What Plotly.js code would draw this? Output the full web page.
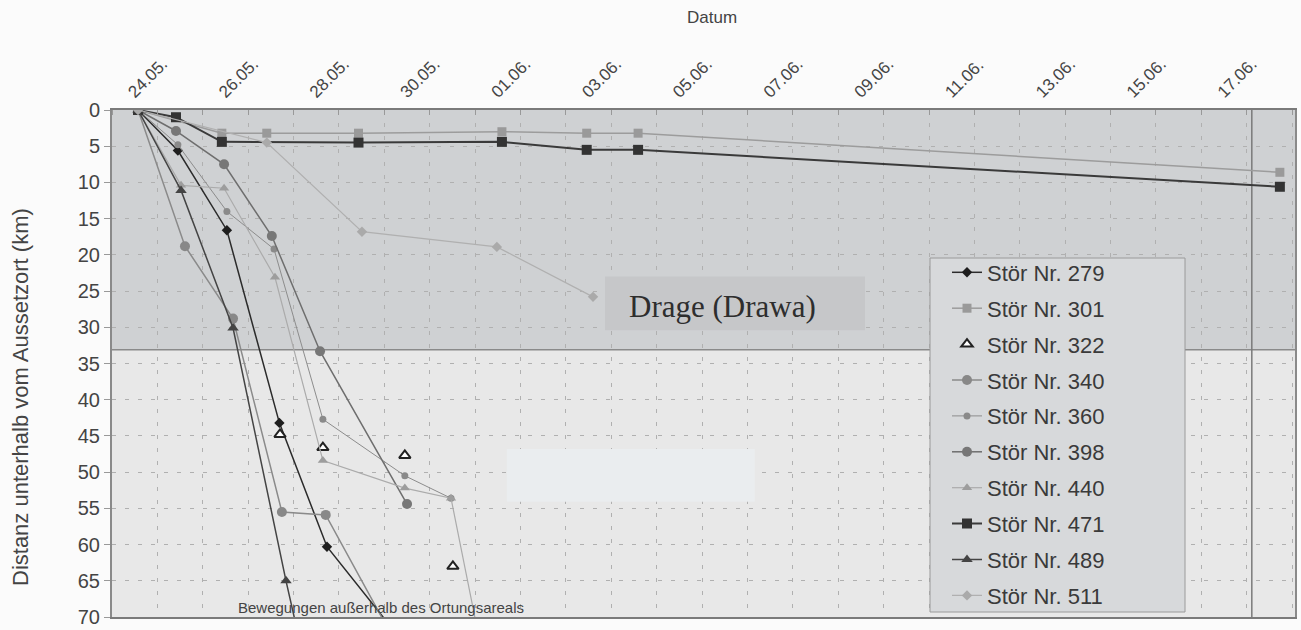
<!DOCTYPE html>
<html>
<head>
<meta charset="utf-8">
<script src="https://cdn.plot.ly/plotly-3.0.1.min.js"></script>
<style>html,body{margin:0;padding:0;background:#fbfbfb;}#chart{width:1301px;height:630px;}</style>
</head>
<body>
<div id="chart"></div>
<script>
// ---- data (dates = time of fix, values = km downstream of release site) ----
const tickDates = ["2008-05-24 09:00","2008-05-26 09:00","2008-05-28 09:00","2008-05-30 09:00","2008-06-01 09:00","2008-06-03 09:00","2008-06-05 09:00","2008-06-07 09:00","2008-06-09 09:00","2008-06-11 09:00","2008-06-13 09:00","2008-06-15 09:00","2008-06-17 09:00"];
const tickLabels = ["24.05.","26.05.","28.05.","30.05.","01.06.","03.06.","05.06.","07.06.","09.06.","11.06.","13.06.","15.06.","17.06."];

const t279 = ["2008-05-24 13:45","2008-05-25 10:50","2008-05-26 12:45","2008-05-27 16:30","2008-05-28 17:40","2008-05-30 10:00"];
const km279 = [0, 5.6, 16.6, 43.2, 60.3, 73.5];

const t301 = ["2008-05-24 13:45","2008-05-26 10:05","2008-05-27 09:50","2008-05-29 10:20","2008-06-01 14:10","2008-06-03 11:00","2008-06-04 14:10","2008-06-18 17:30"];
const km301 = [0, 3.2, 3.2, 3.2, 3.0, 3.2, 3.2, 8.6];

const t322 = ["2008-05-27 16:50","2008-05-28 15:30","2008-05-30 10:50","2008-05-31 12:15"];
const km322 = [44.8, 46.6, 47.7, 63.0];

const t340 = ["2008-05-24 13:45","2008-05-25 14:35","2008-05-26 16:00","2008-05-27 17:50","2008-05-28 17:00","2008-05-30 09:00"];
const km340 = [0, 18.8, 28.8, 55.5, 55.9, 75.0];

const t360 = ["2008-05-24 13:45","2008-05-25 10:50","2008-05-26 12:45","2008-05-27 13:40","2008-05-28 15:30","2008-05-30 10:50","2008-05-31 11:15"];
const km360 = [0, 4.8, 14.0, 19.2, 42.7, 50.5, 53.6];

const t398 = ["2008-05-24 13:45","2008-05-25 09:50","2008-05-26 11:15","2008-05-27 12:30","2008-05-28 14:00","2008-05-30 12:00"];
const km398 = [0, 2.9, 7.5, 17.4, 33.3, 54.4];

const t440 = ["2008-05-24 13:45","2008-05-25 12:30","2008-05-26 11:15","2008-05-27 14:10","2008-05-28 15:30","2008-05-30 10:50","2008-05-31 11:15","2008-06-01 06:00"];
const km440 = [0, 10.4, 10.8, 23.1, 48.4, 52.2, 53.6, 78.0];

const t471 = ["2008-05-24 13:45","2008-05-25 09:50","2008-05-26 10:05","2008-05-29 10:20","2008-06-01 14:10","2008-06-03 11:00","2008-06-04 14:10","2008-06-18 17:30"];
const km471 = [0, 1.0, 4.4, 4.5, 4.4, 5.5, 5.5, 10.6];

const t489 = ["2008-05-24 13:45","2008-05-25 12:30","2008-05-26 16:00","2008-05-27 20:00","2008-05-28 09:00"];
const km489 = [0, 11.1, 30.1, 65.0, 80.0];

const t511 = ["2008-05-24 13:45","2008-05-27 09:50","2008-05-29 12:10","2008-06-01 11:30","2008-06-03 14:20"];
const km511 = [0, 4.5, 16.8, 18.9, 25.8];

const dayGrid = [];
for (let d = 0; d <= 26; d++) {
  const dt = new Date(Date.UTC(2008, 4, 24 + d));
  dayGrid.push(dt.toISOString().slice(0, 10));
}

const SANS = "Liberation Sans, Arial, sans-serif";
const M = {l: 112, r: 6, t: 110, b: 13};
const plotW = 1301 - M.l - M.r;
const plotH = 630 - M.t - M.b;
const px = v => (v - M.l) / plotW;       // page x -> paper x
const py = v => 1 - (v - M.t) / plotH;   // page y -> paper y

function tr(name, x, y, mode, line, marker) {
  const t = {type: "scatter", name: name, x: x, y: y, mode: mode, marker: marker, legendgroup: name, cliponaxis: true};
  if (line) t.line = line;
  return t;
}

const data = [
  tr("Stör Nr. 279", t279, km279, "lines+markers", {color: "#2b2b2b", width: 1.5}, {symbol: "diamond", size: 8, color: "#1e1e1e"}),
  tr("Stör Nr. 301", t301, km301, "lines+markers", {color: "#9c9c9c", width: 1.5}, {symbol: "square", size: 9, color: "#9a9a9a"}),
  tr("Stör Nr. 322", t322, km322, "markers", null, {symbol: "triangle-up", size: 10, color: "#ffffff", line: {color: "#222", width: 2}}),
  tr("Stör Nr. 340", t340, km340, "lines+markers", {color: "#8a8a8a", width: 1.5}, {symbol: "circle", size: 10, color: "#888888"}),
  tr("Stör Nr. 360", t360, km360, "lines+markers", {color: "#8c8c8c", width: 1}, {symbol: "circle", size: 7, color: "#8a8a8a"}),
  tr("Stör Nr. 398", t398, km398, "lines+markers", {color: "#6e6e6e", width: 1.5}, {symbol: "circle", size: 10, color: "#777777"}),
  tr("Stör Nr. 440", t440, km440, "lines+markers", {color: "#ababab", width: 1.2}, {symbol: "triangle-up", size: 9, color: "#9d9d9d"}),
  tr("Stör Nr. 471", t471, km471, "lines+markers", {color: "#3a3a3a", width: 2}, {symbol: "square", size: 10, color: "#333333"}),
  tr("Stör Nr. 489", t489, km489, "lines+markers", {color: "#444444", width: 1.5}, {symbol: "triangle-up", size: 10, color: "#444444"}),
  tr("Stör Nr. 511", t511, km511, "lines+markers", {color: "#b0b0b0", width: 1.2}, {symbol: "diamond", size: 8, color: "#aaaaaa"})
];

const layout = {
  width: 1301, height: 630,
  margin: M,
  paper_bgcolor: "#fbfbfb",
  plot_bgcolor: "#e8e8e8",
  font: {family: SANS, color: "#444"},
  showlegend: true,
  legend: {
    x: px(947), y: py(251.5), xanchor: "left", yanchor: "top",
    bgcolor: "rgba(0,0,0,0)", borderwidth: 0,
    font: {family: SANS, size: 22, color: "#3a3a3a"},
    tracegroupgap: 4.3
  },
  xaxis: {
    type: "date", side: "top",
    range: ["2008-05-24 00:00", "2008-06-19 01:30"],
    tickmode: "array", tickvals: tickDates, ticktext: tickLabels,
    tickangle: -45, tickfont: {family: SANS, size: 17, color: "#444"},
    ticks: "", showgrid: false,
    minor: {tickmode: "array", tickvals: dayGrid, showgrid: true, gridcolor: "#b0b0b0", griddash: "4px,9px", ticks: "inside", ticklen: 5, tickcolor: "#999", gridwidth: 1},
    showline: true, linecolor: "#7a7a7a", linewidth: 2, mirror: true,
    zeroline: false
  },
  yaxis: {
    range: [70, 0], tick0: 0, dtick: 5,
    tickfont: {family: SANS, size: 20, color: "#444"},
    ticklabeloverflow: "allow",
    ticks: "outside", ticklen: 6, tickcolor: "#999",
    showgrid: true, gridcolor: "#b0b0b0", griddash: "4px,9px", gridwidth: 1,
    showline: true, linecolor: "#8a8a8a", linewidth: 2, mirror: true,
    zeroline: false
  },
  shapes: [
    {type: "rect", xref: "paper", x0: 0, x1: 1, yref: "y", y0: 0, y1: 33.1, fillcolor: "#cfd1d3", line: {width: 0}, layer: "below"},
    {type: "line", xref: "paper", x0: 0, x1: 1, yref: "y", y0: 33.1, y1: 33.1, line: {color: "#8a8a8a", width: 1.5}, layer: "below"},
    {type: "line", xref: "x", x0: "2008-06-18 02:40", x1: "2008-06-18 02:40", yref: "paper", y0: 0, y1: 1, line: {color: "#7a7a7a", width: 1.5}, layer: "below"},
    {type: "rect", xref: "x", x0: "2008-06-01 16:50", x1: "2008-06-07 03:50", yref: "y", y0: 46.8, y1: 54.1, fillcolor: "#eaedef", line: {width: 0}, layer: "between"},
    {type: "rect", xref: "x", x0: "2008-06-03 20:40", x1: "2008-06-09 14:10", yref: "y", y0: 23.0, y1: 30.4, fillcolor: "#c6c7c9", line: {width: 0}, layer: "between"},
    {type: "rect", xref: "paper", x0: px(930), x1: px(1185), yref: "paper", y0: py(612), y1: py(258), fillcolor: "#d7d9db", line: {color: "#9a9a9a", width: 1}, layer: "above"}
  ],
  annotations: [
    {xref: "paper", x: px(712), yref: "paper", y: py(18), xanchor: "center", yanchor: "middle", text: "Datum", showarrow: false,
     font: {family: SANS, size: 17, color: "#444"}},
    {xref: "paper", x: px(20), yref: "paper", y: py(397), xanchor: "center", yanchor: "middle", text: "Distanz unterhalb vom Aussetzort (km)", textangle: -90, showarrow: false,
     font: {family: SANS, size: 22, color: "#444"}},
    {xref: "x", x: "2008-06-06 10:50", yref: "paper", y: py(306), xanchor: "center", yanchor: "middle", text: "Drage (Drawa)", showarrow: false,
     font: {family: "Liberation Serif, Times New Roman, serif", size: 31, color: "#2e2e2e"}},
    {xref: "paper", x: px(381), yref: "paper", y: py(607), xanchor: "center", yanchor: "middle", text: "Bewegungen außerhalb des Ortungsareals", showarrow: false,
     font: {family: SANS, size: 15, color: "#444"}}
  ]
};

Plotly.newPlot("chart", data, layout, {displayModeBar: false, staticPlot: true});
</script>
</body>
</html>
